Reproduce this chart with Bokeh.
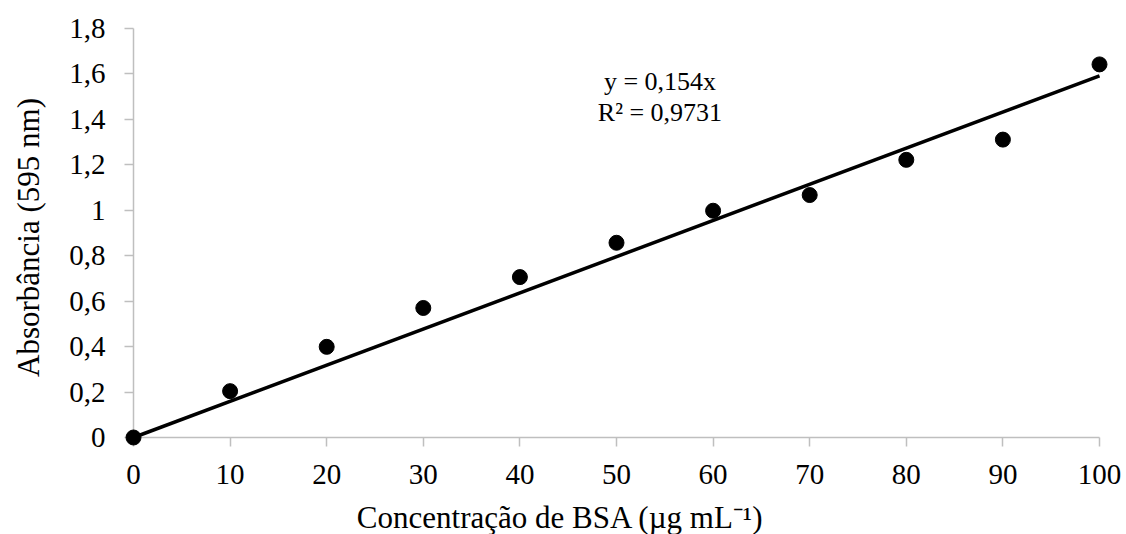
import math
import numpy as np
from bokeh.plotting import figure
from bokeh.models import FixedTicker, Label, ColumnDataSource
from bokeh.embed import file_html
from bokeh.resources import INLINE

# ---- data ----
concentration = [0, 10, 20, 30, 40, 50, 60, 70, 80, 90, 100]
absorbance = [0.0, 0.204, 0.399, 0.57, 0.706, 0.857, 0.998, 1.067, 1.222, 1.311, 1.642]

x_ticks = [0, 10, 20, 30, 40, 50, 60, 70, 80, 90, 100]
y_ticks = [0, 0.2, 0.4, 0.6, 0.8, 1.0, 1.2, 1.4, 1.6, 1.8]
y_tick_labels = ["0", "0,2", "0,4", "0,6", "0,8", "1", "1,2", "1,4", "1,6", "1,8"]

equation_text = "y = 0,154x"
r2_text = "R² = 0,9731"

x_title = "Concentração de BSA (µg mL⁻¹)"
y_title = "Absorbância (595 nm)"

# least-squares trendline through origin, fitted from the points
xa = np.array(concentration, dtype=float)
ya = np.array(absorbance, dtype=float)
slope = float((xa * ya).sum() / (xa * xa).sum())
trend_x = [0, 100]
trend_y = [slope * v for v in trend_x]

FONT = "Liberation Serif"
AXIS_GRAY = "#BFBFBF"

# frame covers the whole canvas; axes are pinned at 0 so nothing is clipped
W, H = 1126, 534
px_x = 9.66    # pixels per x unit
px_y = 227.22  # pixels per y unit
p = figure(
    frame_width=W, frame_height=H,
    x_range=(-133 / px_x, 100 + 27 / px_x),
    y_range=(-97 / px_y, 1.8 + 28 / px_y),
    output_backend="svg", toolbar_location=None,
    min_border=0, min_border_left=0, min_border_right=0,
    min_border_top=0, min_border_bottom=0,
)
p.outline_line_color = None
p.xgrid.grid_line_color = None
p.ygrid.grid_line_color = None
p.background_fill_color = "white"
p.border_fill_color = "white"

# axes
for ax in (p.xaxis[0], p.yaxis[0]):
    ax.axis_line_color = AXIS_GRAY
    ax.axis_line_width = 1.5
    ax.major_tick_line_color = AXIS_GRAY
    ax.major_tick_line_width = 1.5
    ax.major_tick_in = 0
    ax.major_tick_out = 9
    ax.minor_tick_line_color = None
    ax.major_label_text_font = FONT
    ax.major_label_text_font_size = "29px"
    ax.major_label_text_color = "black"
    ax.fixed_location = 0

p.xaxis.ticker = FixedTicker(ticks=x_ticks)
p.xaxis.bounds = (0, 100)
p.xaxis.major_label_standoff = 19

p.yaxis.ticker = FixedTicker(ticks=y_ticks)
p.yaxis.bounds = (0, 1.8)
p.yaxis.major_label_overrides = {t: l for t, l in zip(y_ticks, y_tick_labels)}
p.yaxis.major_label_standoff = 19

# axis titles (centred on the chart area, as in the original)
p.add_layout(Label(x=(560 - 133) / px_x, y=(437 - 517) / px_y, text=x_title,
                   text_font=FONT, text_font_size="31px", text_align="center",
                   text_baseline="middle", text_color="black"))
p.add_layout(Label(x=(28 - 133) / px_x, y=(437 - 237) / px_y, text=y_title,
                   angle=math.pi / 2, text_font=FONT, text_font_size="31px",
                   text_align="center", text_baseline="middle",
                   text_color="black"))

# trendline
p.line(trend_x, trend_y, line_color="black", line_width=3.5, line_cap="butt",
       level="overlay")

# points
src = ColumnDataSource(dict(x=concentration, y=absorbance))
p.scatter("x", "y", source=src, size=15, marker="circle",
          fill_color="black", line_color="black", level="overlay")

# equation labels
p.add_layout(Label(x=54.5, y=1.565, text=equation_text, text_font=FONT,
                   text_font_size="26px", text_align="center",
                   text_baseline="middle", text_color="black"))
p.add_layout(Label(x=54.5, y=1.432, text=r2_text, text_font=FONT,
                   text_font_size="26px", text_align="center",
                   text_baseline="middle", text_color="black"))

open("out.html", "w").write(file_html(p, INLINE))
